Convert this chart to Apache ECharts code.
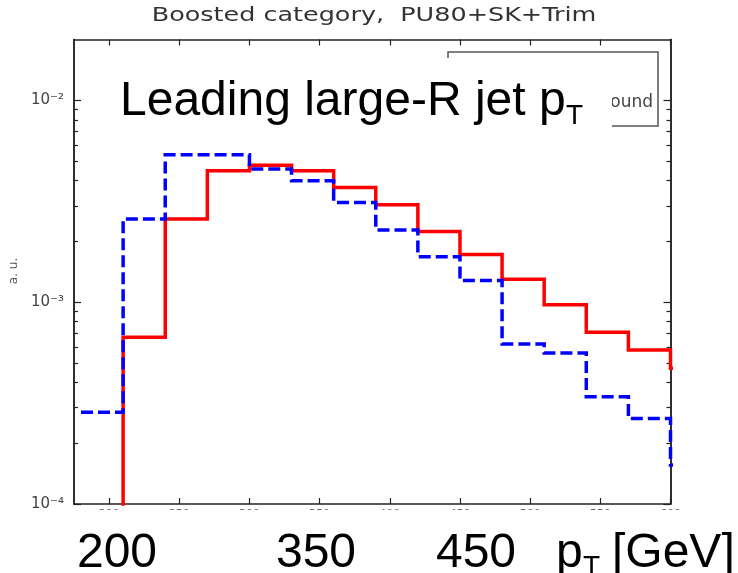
<!DOCTYPE html>
<html>
<head>
<meta charset="utf-8">
<script src="https://cdn.jsdelivr.net/npm/echarts@6/dist/echarts.min.js"></script>
<style>
  html, body { margin: 0; padding: 0; background: #fff; }
  #chart { width: 738px; height: 573px; }
</style>
</head>
<body>
<div id="chart"></div>
<script>
// Histogram bins: low edges in GeV, 30 GeV wide
const binLow = [180, 210, 240, 270, 300, 330, 360, 390, 420, 450, 480, 510, 540, 570, 600];
const binWidth = 30;
// Normalised yields (a. u.)
const signal = [0, 6.7e-4, 2.58e-3, 4.47e-3, 4.77e-3, 4.47e-3, 3.70e-3, 3.04e-3, 2.24e-3, 1.72e-3, 1.30e-3, 9.7e-4, 7.1e-4, 5.8e-4, 4.7e-4];
const background = [2.85e-4, 2.58e-3, 5.37e-3, 5.37e-3, 4.56e-3, 3.99e-3, 3.12e-3, 2.28e-3, 1.68e-3, 1.28e-3, 6.2e-4, 5.6e-4, 3.4e-4, 2.65e-4, 1.56e-4];

// Axis ticks
const xTicks = [200, 250, 300, 350, 400, 450, 500, 550, 600];
const yMajor = [1e-4, 1e-3, 1e-2];
const yMinor = [2e-4, 3e-4, 4e-4, 5e-4, 6e-4, 7e-4, 8e-4, 9e-4,
                2e-3, 3e-3, 4e-3, 5e-3, 6e-3, 7e-3, 8e-3, 9e-3];
const xMin = 175, xMax = 600, yMin = 1e-4, yMax = 0.02;

// Overlay captions
const plotTitle = 'Boosted category,  PU80+SK+Trim';
const yName = 'a. u.';
const legendNames = ['Signal', 'Background'];
const bigTitle = 'Leading large-R jet p';
const bigXLabels = [['200', 117], ['350', 316], ['450', 476]];

// empty bins sit below the log-axis floor so the outline drops out of the frame
const EMPTY = 1e-7;
function stepData(vals) {
  const d = vals.map((v, i) => [binLow[i], v > 0 ? v : EMPTY]);
  const last = vals.length - 1;
  d.push([binLow[last] + binWidth, vals[last] > 0 ? vals[last] : EMPTY]);
  return d;
}

const SUP = { '-': '\u207B', '0': '\u2070', '1': '\u00B9', '2': '\u00B2', '3': '\u00B3', '4': '\u2074' };
function powLabel(v) {
  const e = String(Math.round(Math.log10(v)));
  return '10' + e.split('').map(c => SUP[c]).join('');
}

const frame = { show: true, lineStyle: { color: '#222', width: 1.5 } };

function yAxisDef(position, ticks, len, labels) {
  return {
    type: 'log', logBase: 10, min: yMin, max: yMax, position: position,
    axisLine: frame,
    axisTick: { show: true, inside: true, length: len, customValues: ticks,
                lineStyle: { color: '#222', width: 1.2 } },
    axisLabel: labels ? {
      show: true, customValues: yMajor, formatter: powLabel, margin: 10,
      fontFamily: 'DejaVu Sans', fontSize: 15, color: '#444'
    } : { show: false },
    splitLine: { show: false }, minorTick: { show: false }
  };
}

function xAxisDef(position, labels) {
  return {
    type: 'value', min: xMin, max: xMax, position: position,
    axisLine: frame,
    axisTick: { show: true, inside: true, length: 6, customValues: xTicks,
                lineStyle: { color: '#222', width: 1.2 } },
    axisLabel: labels ? {
      show: true, customValues: xTicks, margin: 5,
      fontFamily: 'DejaVu Sans', fontSize: 11, color: '#666'
    } : { show: false },
    splitLine: { show: false }
  };
}

const chart = echarts.init(document.getElementById('chart'), null, { renderer: 'canvas' });

const bigFont = 'Liberation Sans, Arial, sans-serif';
function bigText(t, x, y, size, align) {
  return { type: 'text', x: x, y: y, z: 11,
    style: { text: t, align: align || 'left', verticalAlign: 'top',
             fontFamily: bigFont, fontSize: size, fill: '#000' } };
}

chart.setOption({
  animation: false,
  backgroundColor: '#fff',
  grid: { left: 74, right: 67.5, top: 39.5, bottom: 69, containLabel: false },
  xAxis: [xAxisDef('bottom', true), xAxisDef('top', false)],
  yAxis: [
    yAxisDef('left', yMajor, 7, true),
    yAxisDef('left', yMinor, 4, false),
    yAxisDef('right', yMajor, 7, false),
    yAxisDef('right', yMinor, 4, false)
  ],
  series: [
    {
      name: legendNames[0], type: 'line', step: 'end', xAxisIndex: 0, yAxisIndex: 0,
      data: stepData(signal), symbol: 'none', clip: true, z: 3,
      lineStyle: { color: '#ff0000', width: 3.5, cap: 'butt', join: 'miter' }
    },
    {
      name: legendNames[1], type: 'line', step: 'end', xAxisIndex: 0, yAxisIndex: 0,
      data: stepData(background), symbol: 'none', clip: true, z: 4,
      lineStyle: { color: '#0000ff', width: 3.5, type: [12, 5], cap: 'butt', join: 'miter' }
    }
  ],
  graphic: [
    // plot title, drawn wide
    { type: 'text', x: 374, y: 16, scaleX: 1.34, z: 20,
      style: { text: plotTitle, align: 'center', verticalAlign: 'middle',
               fontFamily: 'DejaVu Sans', fontSize: 19, fill: '#333' } },
    // y axis name
    { type: 'text', x: 14, y: 271, rotation: Math.PI / 2, z: 20,
      style: { text: yName, align: 'center', verticalAlign: 'middle',
               fontFamily: 'DejaVu Sans', fontSize: 12, fill: '#555' } },
    // legend frame and entries
    { type: 'rect', z: 5, shape: { x: 448, y: 52, width: 210, height: 74 },
      style: { fill: '#fff', stroke: '#555', lineWidth: 1.5 } },
    { type: 'line', z: 6, shape: { x1: 470, y1: 76, x2: 540, y2: 76 },
      style: { stroke: '#ff0000', lineWidth: 3.5 } },
    { type: 'line', z: 6, shape: { x1: 470, y1: 103, x2: 540, y2: 103 },
      style: { stroke: '#0000ff', lineWidth: 3.5, lineDash: [12, 5] } },
    { type: 'text', x: 556, y: 76, z: 6,
      style: { text: legendNames[0], align: 'left', verticalAlign: 'middle',
               fontFamily: 'DejaVu Sans', fontSize: 16, fill: '#444' } },
    { type: 'text', x: 653, y: 103, z: 6,
      style: { text: legendNames[1], align: 'right', verticalAlign: 'middle',
               fontFamily: 'DejaVu Sans', fontSize: 17, fill: '#444' } },
    // caption panel
    { type: 'rect', z: 10, shape: { x: 108, y: 58, width: 504, height: 76 },
      style: { fill: '#fff' } },
    bigText(bigTitle, 120, 78, 48),
    bigText('T', 566, 102, 28),
    // large x-axis captions
    { type: 'rect', z: 10, shape: { x: 68, y: 510, width: 670, height: 63 },
      style: { fill: '#fff' } },
    ...bigXLabels.map(([t, cx]) => bigText(t, cx, 530, 48, 'center')),
    bigText('p', 556, 530, 48),
    bigText('T', 583, 553, 28),
    bigText('[GeV]', 612, 530, 48)
  ]
});
</script>
</body>
</html>
